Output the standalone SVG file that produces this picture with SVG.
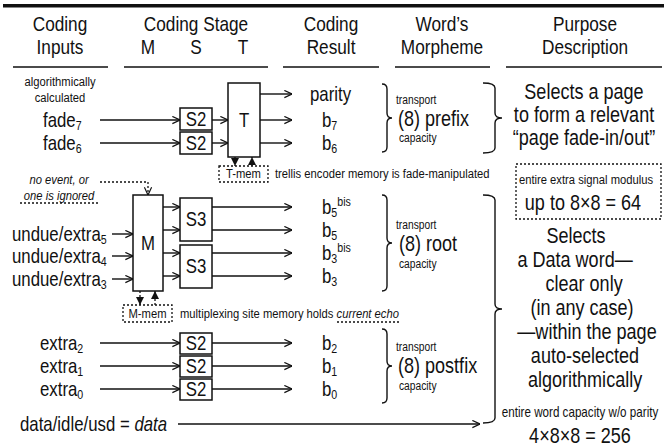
<svg xmlns="http://www.w3.org/2000/svg" width="664" height="447" viewBox="0 0 664 447">
<defs>
<style>
text{font-family:"Liberation Sans",Arial,sans-serif;fill:#111;transform-box:fill-box;transform-origin:left center;transform:scale(0.82,1)}
.h{font-size:21px;text-anchor:middle;transform-origin:center}
.l{font-size:20.5px}
.s{font-size:13.7px}
.t{font-size:12.5px}
.i{font-style:italic}
.m{text-anchor:middle;transform-origin:center}
.p{font-size:22px;text-anchor:middle;transform-origin:center}
.q{font-size:22px}
.sub{font-size:13px}
.box{fill:#fff;stroke:#111;stroke-width:1.5}
.ln{stroke:#111;stroke-width:1.4;fill:none}
.dot{stroke:#111;stroke-width:1.3;fill:none;stroke-dasharray:2 2}
.br{stroke:#111;stroke-width:1.4;fill:none}
</style>
<marker id="ah" viewBox="0 0 10 10" refX="9.5" refY="5" markerWidth="9" markerHeight="9" markerUnits="userSpaceOnUse" orient="auto">
<path d="M1,1 L9.5,5 L1,9" fill="none" stroke="#111" stroke-width="1.3"/>
</marker>
<marker id="tri" viewBox="0 0 10 10" refX="10" refY="5" markerWidth="8" markerHeight="8" markerUnits="userSpaceOnUse" orient="auto">
<path d="M0,0 L10,5 L0,10 Z" fill="#111"/>
</marker>
</defs>

<g id="header">
<rect x="3" y="4" width="661" height="3.5" fill="#111"/>
<text class="h" x="60" y="31">Coding</text>
<text class="h" x="60" y="54">Inputs</text>
<text class="h" x="196" y="31">Coding Stage</text>
<text class="h" x="148" y="54">M</text>
<text class="h" x="196" y="54">S</text>
<text class="h" x="243" y="54">T</text>
<text class="h" x="331" y="31">Coding</text>
<text class="h" x="331" y="54">Result</text>
<text class="h" x="442" y="31">Word’s</text>
<text class="h" x="442" y="54">Morpheme</text>
<text class="h" x="585" y="31">Purpose</text>
<text class="h" x="585" y="54">Description</text>
<path class="ln" stroke-width="1.5" d="M13,67H108M124,67H268M283,67H379M395,67H490M506,67H662"/>
</g>

<g id="inputs">
<text class="s m" x="60" y="86">algorithmically</text>
<text class="s m" x="60" y="102">calculated</text>
<text class="l" x="43" y="127">fade<tspan class="sub" dy="3">7</tspan></text>
<text class="l" x="43" y="150">fade<tspan class="sub" dy="3">6</tspan></text>
<text class="s i m" x="59" y="184">no event, or</text>
<text class="s i m" x="59" y="200">one is ignored</text>
<path class="dot" d="M20,203H100"/>
<text class="l" x="12" y="241">undue/extra<tspan class="sub" dy="3">5</tspan></text>
<text class="l" x="12" y="263">undue/extra<tspan class="sub" dy="3">4</tspan></text>
<text class="l" x="12" y="286">undue/extra<tspan class="sub" dy="3">3</tspan></text>
<text class="l" x="40" y="350">extra<tspan class="sub" dy="3">2</tspan></text>
<text class="l" x="40" y="373">extra<tspan class="sub" dy="3">1</tspan></text>
<text class="l" x="40" y="396">extra<tspan class="sub" dy="3">0</tspan></text>
<text class="l" x="20" y="431">data/idle/usd = <tspan class="i">data</tspan></text>
</g>

<g id="node-s2-fade7"><rect class="box" x="180" y="108" width="32" height="22"/><text class="l m" x="196" y="126">S2</text></g>
<g id="node-s2-fade6"><rect class="box" x="180" y="132" width="32" height="22"/><text class="l m" x="196" y="150">S2</text></g>
<g id="node-t"><rect class="box" x="228" y="83" width="32" height="74"/><text class="l m" x="244" y="127">T</text></g>
<g id="node-tmem"><rect class="dot" x="219" y="166" width="49" height="16"/><text class="s m" x="243.5" y="178">T-mem</text></g>
<g id="node-m"><rect class="box" x="133" y="195" width="30" height="96"/><text class="l m" x="148" y="250">M</text></g>
<g id="node-s3a"><rect class="box" x="180" y="198" width="32" height="43"/><text class="l m" x="196" y="226">S3</text></g>
<g id="node-s3b"><rect class="box" x="180" y="245" width="32" height="43"/><text class="l m" x="196" y="273">S3</text></g>
<g id="node-mmem"><rect class="dot" x="123" y="305" width="49" height="17"/><text class="s m" x="147.5" y="318">M-mem</text></g>
<g id="node-s2-extra2"><rect class="box" x="180" y="333" width="32" height="21"/><text class="l m" x="196" y="350">S2</text></g>
<g id="node-s2-extra1"><rect class="box" x="180" y="356" width="32" height="21"/><text class="l m" x="196" y="373">S2</text></g>
<g id="node-s2-extra0"><rect class="box" x="180" y="379" width="32" height="21"/><text class="l m" x="196" y="396">S2</text></g>

<g id="connectors">
<path class="ln" marker-end="url(#ah)" d="M100,120H180"/>
<path class="ln" marker-end="url(#ah)" d="M100,143H180"/>
<path class="ln" marker-end="url(#ah)" d="M212,120H228"/>
<path class="ln" marker-end="url(#ah)" d="M212,143H228"/>
<path class="ln" marker-end="url(#ah)" d="M260,94H292"/>
<path class="ln" marker-end="url(#ah)" d="M260,120H292"/>
<path class="ln" marker-end="url(#ah)" d="M260,143H292"/>
<path class="dot" marker-end="url(#tri)" d="M235,157V166"/>
<path class="dot" marker-end="url(#tri)" d="M252,166V157"/>
<path class="dot" marker-end="url(#ah)" d="M100,182H148V195"/>
<path class="ln" marker-end="url(#ah)" d="M112,234H133"/>
<path class="ln" marker-end="url(#ah)" d="M112,256H133"/>
<path class="ln" marker-end="url(#ah)" d="M112,279H133"/>
<path class="ln" marker-end="url(#ah)" d="M163,207H180"/>
<path class="ln" marker-end="url(#ah)" d="M163,230H180"/>
<path class="ln" marker-end="url(#ah)" d="M163,253H180"/>
<path class="ln" marker-end="url(#ah)" d="M163,276H180"/>
<path class="ln" marker-end="url(#ah)" d="M212,207H292"/>
<path class="ln" marker-end="url(#ah)" d="M212,230H292"/>
<path class="ln" marker-end="url(#ah)" d="M212,253H292"/>
<path class="ln" marker-end="url(#ah)" d="M212,276H292"/>
<path class="dot" marker-end="url(#tri)" d="M140,291V305"/>
<path class="dot" marker-end="url(#tri)" d="M155,305V291"/>
<path class="ln" marker-end="url(#ah)" d="M100,343H180"/>
<path class="ln" marker-end="url(#ah)" d="M100,366H180"/>
<path class="ln" marker-end="url(#ah)" d="M100,389H180"/>
<path class="ln" marker-end="url(#ah)" d="M212,343H292"/>
<path class="ln" marker-end="url(#ah)" d="M212,366H292"/>
<path class="ln" marker-end="url(#ah)" d="M212,389H292"/>
<path class="ln" marker-end="url(#ah)" d="M178,424H480"/>
</g>

<g id="results">
<text class="l" x="310" y="101">parity</text>
<text class="l" x="322" y="127">b<tspan class="sub" dy="3">7</tspan></text>
<text class="l" x="322" y="150">b<tspan class="sub" dy="3">6</tspan></text>
<text class="l" x="322" y="214">b<tspan class="sub" dy="3">5</tspan><tspan class="sub" dy="-11">bis</tspan></text>
<text class="l" x="322" y="237">b<tspan class="sub" dy="3">5</tspan></text>
<text class="l" x="322" y="260">b<tspan class="sub" dy="3">3</tspan><tspan class="sub" dy="-11">bis</tspan></text>
<text class="l" x="322" y="283">b<tspan class="sub" dy="3">3</tspan></text>
<text class="l" x="322" y="350">b<tspan class="sub" dy="3">2</tspan></text>
<text class="l" x="322" y="373">b<tspan class="sub" dy="3">1</tspan></text>
<text class="l" x="322" y="396">b<tspan class="sub" dy="3">0</tspan></text>
</g>

<g id="notes">
<text class="s" x="275" y="178">trellis encoder memory is fade-manipulated</text>
<text class="s" x="180" y="318">multiplexing site memory holds <tspan class="i">current echo</tspan></text>
<path class="dot" d="M337,322H400"/>
</g>

<g id="morphemes">
<path class="br" d="M382,84Q387,84 387,89V113Q387,118 392,118Q387,118 387,123V147Q387,152 382,152"/>
<text class="t" x="396" y="104">transport</text>
<text class="q" x="398" y="126">(8) prefix</text>
<text class="t" x="399" y="142">capacity</text>
<path class="br" d="M382,195Q387,195 387,200V238Q387,243 392,243Q387,243 387,248V286Q387,291 382,291"/>
<text class="t" x="396" y="229">transport</text>
<text class="q" x="399" y="251">(8) root</text>
<text class="t" x="399" y="268">capacity</text>
<path class="br" d="M382,329Q387,329 387,334V361Q387,366 392,366Q387,366 387,371V398Q387,403 382,403"/>
<text class="t" x="396" y="351">transport</text>
<text class="q" x="398" y="373">(8) postfix</text>
<text class="t" x="399" y="390">capacity</text>
</g>

<g id="purpose">
<path class="br" d="M483,83Q495,83 495,88V113Q495,118 502,118Q495,118 495,123V148Q495,153 483,153"/>
<text class="p" x="584" y="99">Selects a page</text>
<text class="p" x="584" y="122">to form a relevant</text>
<text class="p" x="584" y="145">“page fade-in/out”</text>
<rect class="dot" x="516" y="164" width="145" height="55"/>
<text class="s m" x="586" y="184">entire extra signal modulus</text>
<text class="p" x="583" y="210">up to 8×8 = 64</text>
<path class="br" d="M483,195Q495,195 495,200V304Q495,309 502,309Q495,309 495,314V418Q495,423 483,423"/>
<text class="p" x="576" y="243">Selects</text>
<text class="p" x="575" y="267">a Data word—</text>
<text class="p" x="584" y="291">clear only</text>
<text class="p" x="582" y="315">(in any case)</text>
<text class="p" x="587" y="339">—within the page</text>
<text class="p" x="585" y="363">auto-selected</text>
<text class="p" x="585" y="387">algorithmically</text>
<text class="m" style="font-size:14.2px" x="580" y="417">entire word capacity w/o parity</text>
<text class="p" x="580" y="443">4×8×8 = 256</text>
</g>
</svg>
